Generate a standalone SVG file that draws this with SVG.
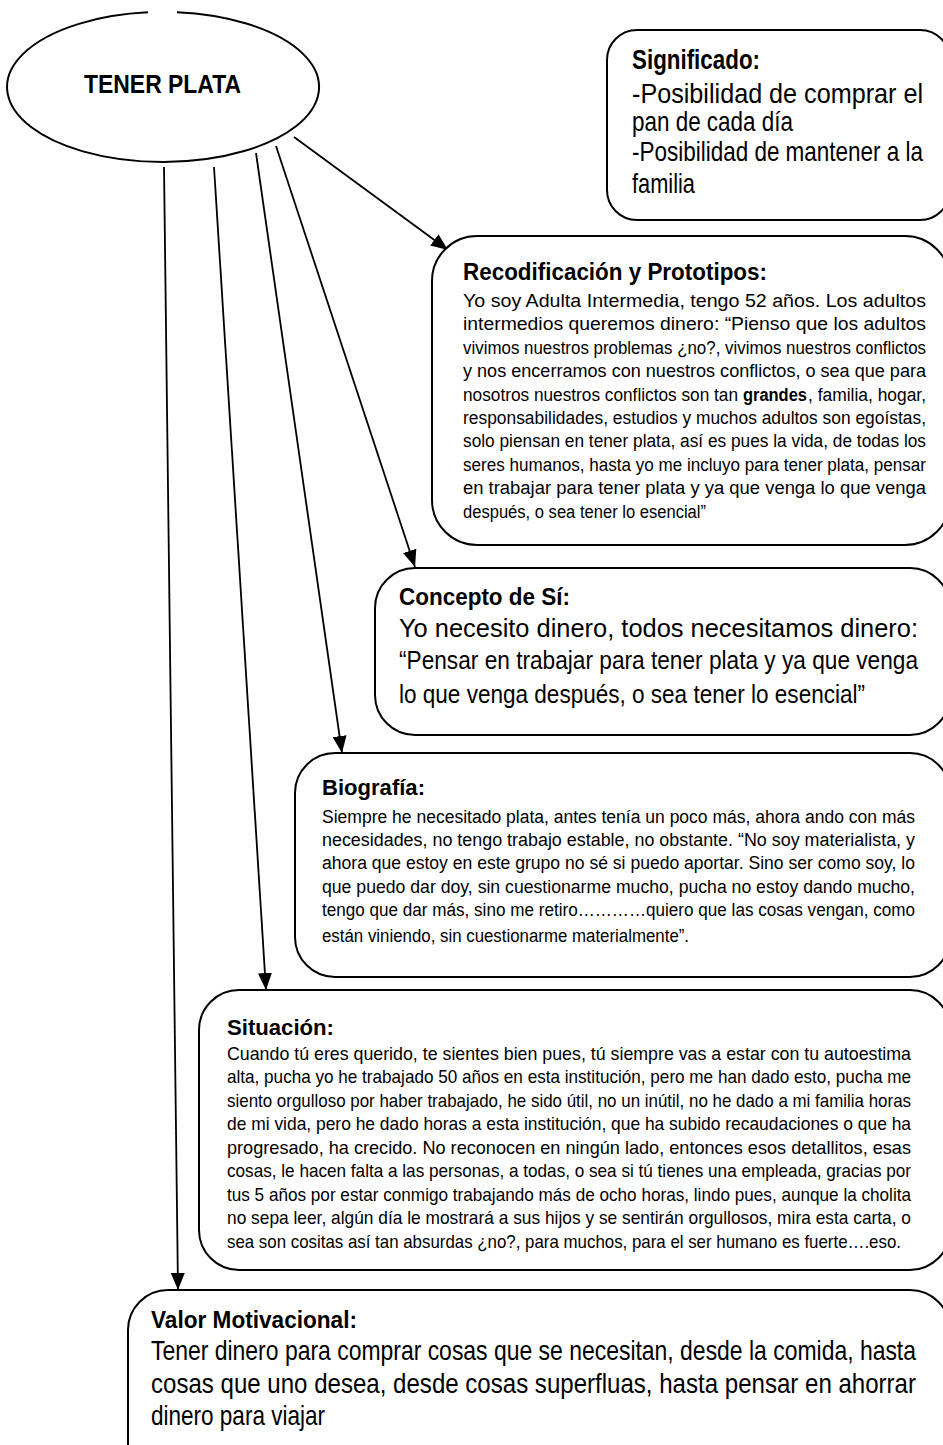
<svg xmlns="http://www.w3.org/2000/svg" width="943" height="1445" viewBox="0 0 943 1445">
<style>
.box{fill:#fff;stroke:#000;stroke-width:2}
.ln{fill:none;stroke:#000;stroke-width:1.8}
text{font-family:"Liberation Sans",Arial,sans-serif;fill:#000}
.b{font-weight:bold}
.s27{font-size:27px}.s26{font-size:26px}.s25{font-size:25px}.s24{font-size:24px}.s23{font-size:23px}.s22{font-size:22px}.s19{font-size:19px}.s18{font-size:18px}
</style>
<defs>
<marker id="ah" markerUnits="userSpaceOnUse" markerWidth="18" markerHeight="14" refX="17" refY="7" orient="auto">
<path d="M0,0 L17,7 L0,14 z" fill="#000"/>
</marker>
</defs>
<rect width="943" height="1445" fill="#fff"/>
<g id="connectors">
<line class="ln" x1="164" y1="167" x2="178" y2="1290" marker-end="url(#ah)"/>
<line class="ln" x1="214" y1="167" x2="266" y2="990" marker-end="url(#ah)"/>
<line class="ln" x1="256" y1="153" x2="342" y2="753" marker-end="url(#ah)"/>
<line class="ln" x1="276" y1="146" x2="415" y2="567" marker-end="url(#ah)"/>
<line class="ln" x1="294" y1="137" x2="448" y2="250" marker-end="url(#ah)"/>
</g>
<g id="tener-plata">
<path class="box" d="M177,12.3 A156,75 0 1 1 148,12.35"/>
<g transform="translate(84,0) scale(0.86,1)">
<text class="b s26" x="0" y="93" textLength="182.6" lengthAdjust="spacingAndGlyphs">TENER PLATA</text>
</g>
</g>
<g id="significado">
<rect class="box" x="607" y="30" width="343" height="190" rx="30"/>
<g transform="translate(632,0) scale(0.82,1)">
<text class="b s27" x="0" y="69" textLength="156.1" lengthAdjust="spacingAndGlyphs">Significado:</text>
<text class="s27" x="0" y="103" textLength="354.9" lengthAdjust="spacingAndGlyphs">-Posibilidad de comprar el</text>
<text class="s27" x="0" y="131" textLength="196.3" lengthAdjust="spacingAndGlyphs">pan de cada día</text>
<text class="s27" x="0" y="161" textLength="354.9" lengthAdjust="spacingAndGlyphs">-Posibilidad de mantener a la</text>
<text class="s27" x="0" y="193" textLength="76.8" lengthAdjust="spacingAndGlyphs">familia</text>
</g>
</g>
<g id="recodificacion">
<rect class="box" x="432" y="236" width="518" height="309" rx="45"/>
<text class="b s23" x="463" y="280" textLength="304" lengthAdjust="spacingAndGlyphs">Recodificación y Prototipos:</text>
<g transform="translate(463,0) scale(0.87,1)">
<text class="s19" x="0" y="307" textLength="532.2" lengthAdjust="spacingAndGlyphs">Yo soy Adulta Intermedia, tengo 52 años. Los adultos</text>
<text class="s19" x="0" y="330.4" textLength="532.2" lengthAdjust="spacingAndGlyphs">intermedios queremos dinero: “Pienso que los adultos</text>
<text class="s19" x="0" y="353.8" textLength="532.2" lengthAdjust="spacingAndGlyphs">vivimos nuestros problemas ¿no?, vivimos nuestros conflictos</text>
<text class="s19" x="0" y="377.2" textLength="532.2" lengthAdjust="spacingAndGlyphs">y nos encerramos con nuestros conflictos, o sea que para</text>
<text class="s19" x="0" y="400.6" textLength="316.1" lengthAdjust="spacingAndGlyphs">nosotros nuestros conflictos son tan</text>
<text class="s19 b" x="321.8" y="400.6" textLength="73.6" lengthAdjust="spacingAndGlyphs">grandes</text>
<text class="s19" x="396.6" y="400.6" textLength="135.6" lengthAdjust="spacingAndGlyphs">, familia, hogar,</text>
<text class="s19" x="0" y="424" textLength="532.2" lengthAdjust="spacingAndGlyphs">responsabilidades, estudios y muchos adultos son egoístas,</text>
<text class="s19" x="0" y="447.4" textLength="532.2" lengthAdjust="spacingAndGlyphs">solo piensan en tener plata, así es pues la vida, de todas los</text>
<text class="s19" x="0" y="470.8" textLength="532.2" lengthAdjust="spacingAndGlyphs">seres humanos, hasta yo me incluyo para tener plata, pensar</text>
<text class="s19" x="0" y="494.2" textLength="532.2" lengthAdjust="spacingAndGlyphs">en trabajar para tener plata y ya que venga lo que venga</text>
<text class="s19" x="0" y="517.6" textLength="279.3" lengthAdjust="spacingAndGlyphs">después, o sea tener lo esencial”</text>
</g>
</g>
<g id="concepto">
<rect class="box" x="375" y="568" width="575" height="167" rx="40"/>
<text class="b s23" x="399" y="605" textLength="171" lengthAdjust="spacingAndGlyphs">Concepto de Sí:</text>
<g transform="translate(399,0) scale(0.9,1)">
<text class="s25" x="0" y="637" textLength="576.7" lengthAdjust="spacingAndGlyphs">Yo necesito dinero, todos necesitamos dinero:</text>
<text class="s25" x="0" y="669" textLength="576.7" lengthAdjust="spacingAndGlyphs">“Pensar en trabajar para tener plata y ya que venga</text>
<text class="s25" x="0" y="703" textLength="517.8" lengthAdjust="spacingAndGlyphs">lo que venga después, o sea tener lo esencial”</text>
</g>
</g>
<g id="biografia">
<rect class="box" x="295" y="753" width="655" height="224" rx="40"/>
<text class="b s22" x="322" y="795" textLength="103" lengthAdjust="spacingAndGlyphs">Biografía:</text>
<g transform="translate(322,0) scale(0.89,1)">
<text class="s19" x="0" y="823" textLength="666.3" lengthAdjust="spacingAndGlyphs">Siempre he necesitado plata, antes tenía un poco más, ahora ando con más</text>
<text class="s19" x="0" y="846" textLength="666.3" lengthAdjust="spacingAndGlyphs">necesidades, no tengo trabajo estable, no obstante. “No soy materialista, y</text>
<text class="s19" x="0" y="869" textLength="666.3" lengthAdjust="spacingAndGlyphs">ahora que estoy en este grupo no sé si puedo aportar. Sino ser como soy, lo</text>
<text class="s19" x="0" y="893" textLength="666.3" lengthAdjust="spacingAndGlyphs">que puedo dar doy, sin cuestionarme mucho, pucha no estoy dando mucho,</text>
<text class="s19" x="0" y="916" textLength="666.3" lengthAdjust="spacingAndGlyphs">tengo que dar más, sino me retiro…………quiero que las cosas vengan, como</text>
<text class="s19" x="0" y="942" textLength="412.4" lengthAdjust="spacingAndGlyphs">están viniendo, sin cuestionarme materialmente”.</text>
</g>
</g>
<g id="situacion">
<rect class="box" x="199" y="990" width="751" height="280" rx="40"/>
<text class="b s22" x="227" y="1035" textLength="107" lengthAdjust="spacingAndGlyphs">Situación:</text>
<g transform="translate(227,0) scale(0.93,1)">
<text class="s18" x="0" y="1060" textLength="735.5" lengthAdjust="spacingAndGlyphs">Cuando tú eres querido, te sientes bien pues, tú siempre vas a estar con tu autoestima</text>
<text class="s18" x="0" y="1083.5" textLength="735.5" lengthAdjust="spacingAndGlyphs">alta, pucha yo he trabajado 50 años en esta institución, pero me han dado esto, pucha me</text>
<text class="s18" x="0" y="1107" textLength="735.5" lengthAdjust="spacingAndGlyphs">siento orgulloso por haber trabajado, he sido útil, no un inútil, no he dado a mi familia horas</text>
<text class="s18" x="0" y="1130.5" textLength="735.5" lengthAdjust="spacingAndGlyphs">de mi vida, pero he dado horas a esta institución, que ha subido recaudaciones o que ha</text>
<text class="s18" x="0" y="1154" textLength="735.5" lengthAdjust="spacingAndGlyphs">progresado, ha crecido. No reconocen en ningún lado, entonces esos detallitos, esas</text>
<text class="s18" x="0" y="1177.5" textLength="735.5" lengthAdjust="spacingAndGlyphs">cosas, le hacen falta a las personas, a todas, o sea si tú tienes una empleada, gracias por</text>
<text class="s18" x="0" y="1201" textLength="735.5" lengthAdjust="spacingAndGlyphs">tus 5 años por estar conmigo trabajando más de ocho horas, lindo pues, aunque la cholita</text>
<text class="s18" x="0" y="1224.5" textLength="735.5" lengthAdjust="spacingAndGlyphs">no sepa leer, algún día le mostrará a sus hijos y se sentirán orgullosos, mira esta carta, o</text>
<text class="s18" x="0" y="1248" textLength="724.7" lengthAdjust="spacingAndGlyphs">sea son cositas así tan absurdas ¿no?, para muchos, para el ser humano es fuerte….eso.</text>
</g>
</g>
<g id="valor">
<rect class="box" x="128" y="1290" width="822" height="200" rx="40"/>
<text class="b s24" x="151" y="1328" textLength="206" lengthAdjust="spacingAndGlyphs">Valor Motivacional:</text>
<g transform="translate(151,0) scale(0.83,1)">
<text class="s27" x="0" y="1360" textLength="921.7" lengthAdjust="spacingAndGlyphs">Tener dinero para comprar cosas que se necesitan, desde la comida, hasta</text>
<text class="s27" x="0" y="1393" textLength="921.7" lengthAdjust="spacingAndGlyphs">cosas que uno desea, desde cosas superfluas, hasta pensar en ahorrar</text>
<text class="s27" x="0" y="1425" textLength="209.6" lengthAdjust="spacingAndGlyphs">dinero para viajar</text>
</g>
</g>
</svg>
